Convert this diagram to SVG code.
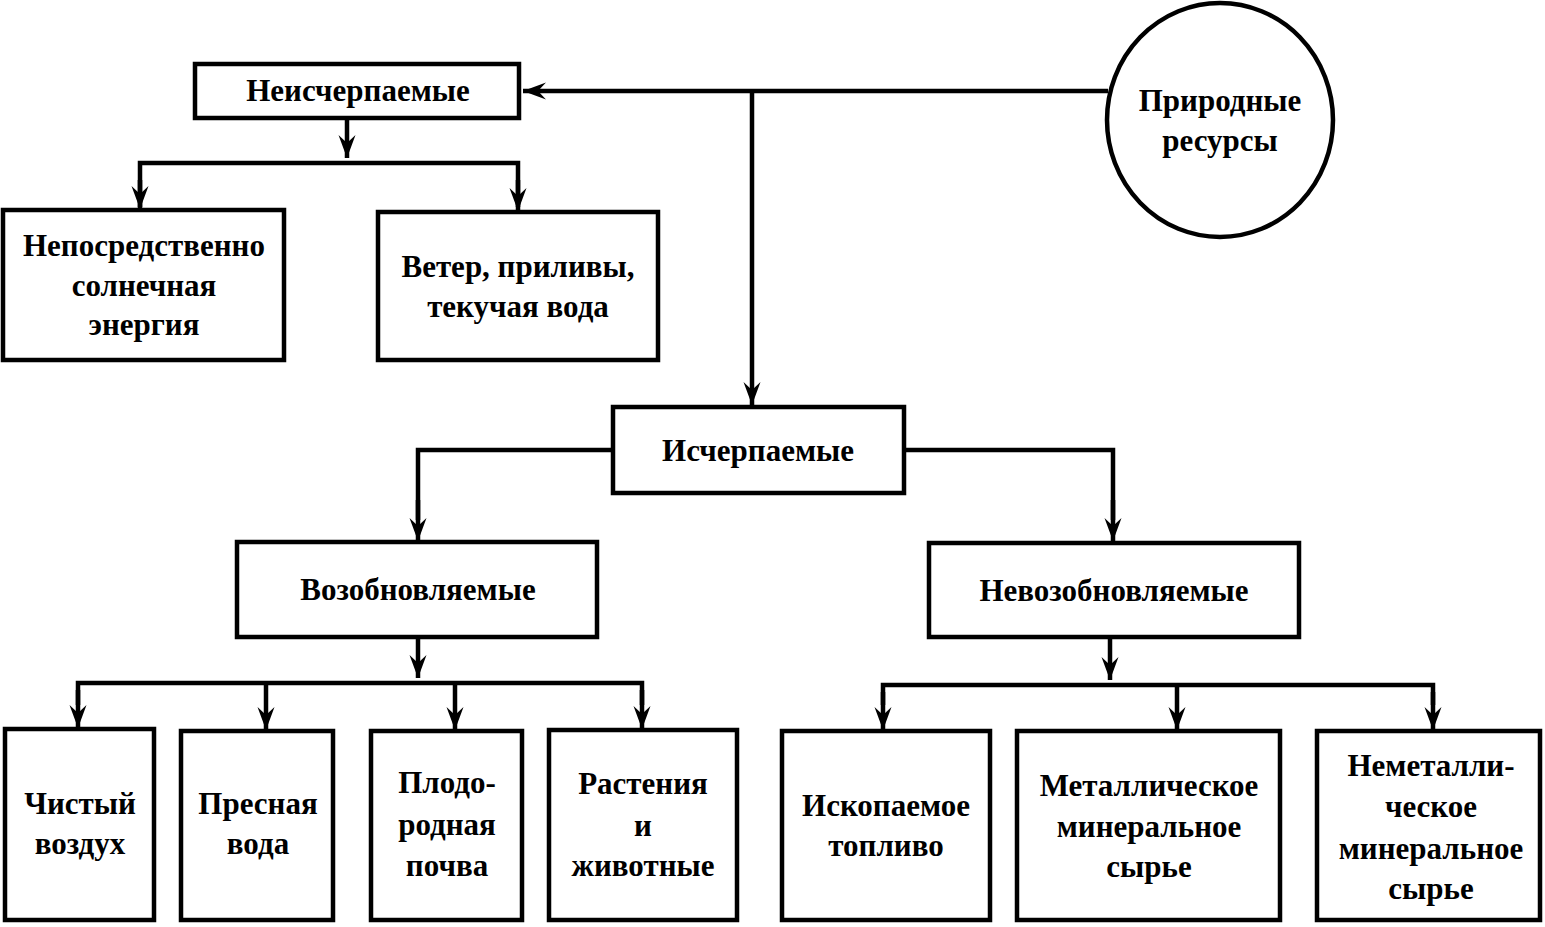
<svg xmlns="http://www.w3.org/2000/svg" width="1545" height="927" viewBox="0 0 1545 927">
<defs>
<marker id="ah" viewBox="-24 -10 26 20" refX="0" refY="0" markerWidth="26" markerHeight="20" markerUnits="userSpaceOnUse" orient="auto">
<path d="M0,0 L-23,-8.5 L-15,0 L-23,8.5 Z" fill="#000"/>
</marker>
<style>
.b{fill:#fff;stroke:#000;stroke-width:4.5}
.c{fill:none;stroke:#000;stroke-width:4.5}
.a{marker-end:url(#ah)}
text{font-family:"Liberation Serif","Times New Roman",serif;font-weight:bold;font-size:31px;fill:#000;text-anchor:middle}
</style>
</defs>
<rect width="1545" height="927" fill="#fff"/>
<g id="connectors">
<path class="c a" d="M1108,91 L523,91"/>
<path class="c a" d="M752,91 L752,405"/>
<path class="c a" d="M347,118 L347,158"/>
<path class="c" d="M140,207 L140,163 L518,163 L518,207"/>
<path class="c a" d="M140,180 L140,209"/>
<path class="c a" d="M518,180 L518,211"/>
<path class="c" d="M612,450 L418,450 L418,520"/>
<path class="c a" d="M418,500 L418,541"/>
<path class="c" d="M904,450 L1113,450 L1113,520"/>
<path class="c a" d="M1113,500 L1113,541"/>
<path class="c a" d="M418,637 L418,678"/>
<path class="c" d="M78,705 L78,683 L642,683 L642,705"/>
<path class="c a" d="M78,690 L78,728"/>
<path class="c a" d="M266,683 L266,730"/>
<path class="c a" d="M455,683 L455,730"/>
<path class="c a" d="M642,690 L642,729"/>
<path class="c a" d="M1110,637 L1110,680"/>
<path class="c" d="M883,705 L883,685 L1433,685 L1433,705"/>
<path class="c a" d="M883,692 L883,730"/>
<path class="c a" d="M1177,685 L1177,730"/>
<path class="c a" d="M1433,692 L1433,730"/>
</g>
<g id="n-prirodnye">
<ellipse class="b" cx="1220" cy="120" rx="113" ry="117"/>
<text x="1220" y="111">Природные</text>
<text x="1220" y="151">ресурсы</text>
</g>
<g id="n-neischerpaemye">
<rect class="b" x="195" y="64" width="324" height="54"/>
<text x="358" y="101">Неисчерпаемые</text>
</g>
<g id="n-solnechnaya">
<rect class="b" x="3" y="210" width="281" height="150"/>
<text x="144" y="256">Непосредственно</text>
<text x="144" y="296">солнечная</text>
<text x="144" y="335">энергия</text>
</g>
<g id="n-veter">
<rect class="b" x="378" y="212" width="280" height="148"/>
<text x="518" y="277">Ветер, приливы,</text>
<text x="518" y="317">текучая вода</text>
</g>
<g id="n-ischerpaemye">
<rect class="b" x="613" y="407" width="291" height="86"/>
<text x="758" y="461">Исчерпаемые</text>
</g>
<g id="n-vozob">
<rect class="b" x="237" y="542" width="360" height="95"/>
<text x="418" y="600">Возобновляемые</text>
</g>
<g id="n-nevozob">
<rect class="b" x="929" y="543" width="370" height="94"/>
<text x="1114" y="601">Невозобновляемые</text>
</g>
<g id="n-vozduh">
<rect class="b" x="5" y="729" width="149" height="191"/>
<text x="80" y="814">Чистый</text>
<text x="80" y="854">воздух</text>
</g>
<g id="n-voda">
<rect class="b" x="181" y="731" width="152" height="189"/>
<text x="258" y="814">Пресная</text>
<text x="258" y="854">вода</text>
</g>
<g id="n-pochva">
<rect class="b" x="371" y="731" width="151" height="189"/>
<text x="447" y="793">Плодо-</text>
<text x="447" y="835">родная</text>
<text x="447" y="876">почва</text>
</g>
<g id="n-rasteniya">
<rect class="b" x="549" y="730" width="188" height="190"/>
<text x="643" y="794">Растения</text>
<text x="643" y="836">и</text>
<text x="643" y="876">животные</text>
</g>
<g id="n-toplivo">
<rect class="b" x="782" y="731" width="208" height="189"/>
<text x="886" y="816">Ископаемое</text>
<text x="886" y="856">топливо</text>
</g>
<g id="n-metall">
<rect class="b" x="1017" y="731" width="263" height="189"/>
<text x="1149" y="796">Металлическое</text>
<text x="1149" y="837">минеральное</text>
<text x="1149" y="877">сырье</text>
</g>
<g id="n-nemetall">
<rect class="b" x="1317" y="731" width="223" height="189"/>
<text x="1431" y="776">Неметалли-</text>
<text x="1431" y="817">ческое</text>
<text x="1431" y="859">минеральное</text>
<text x="1431" y="899">сырье</text>
</g>
</svg>
